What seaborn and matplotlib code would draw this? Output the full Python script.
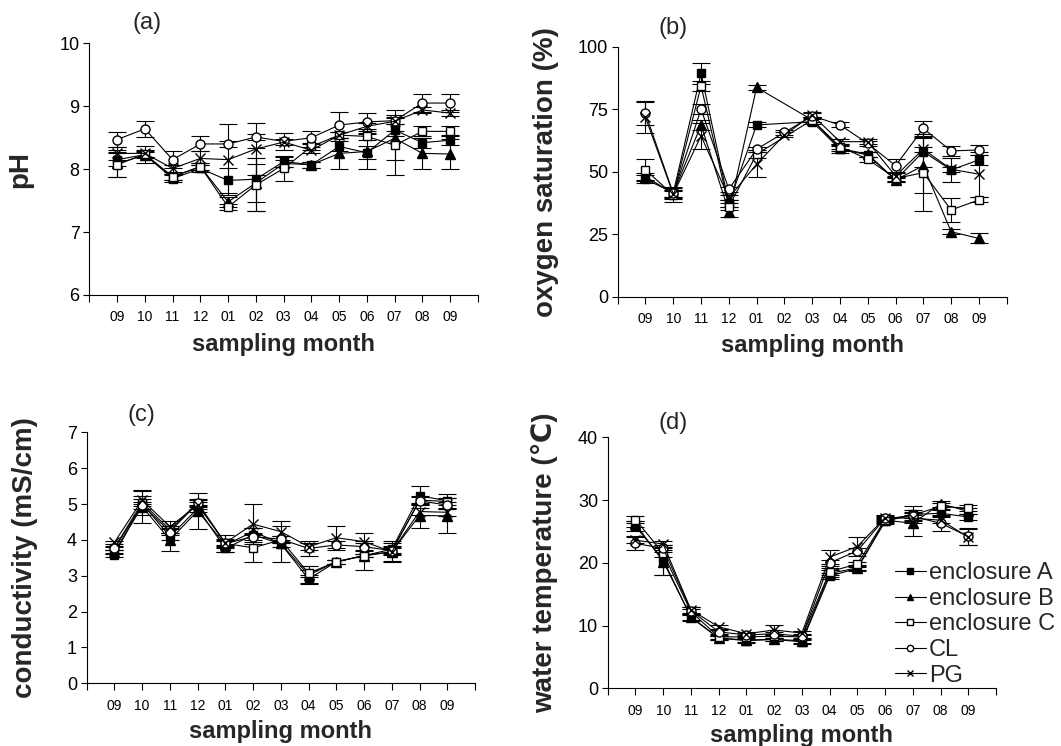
import numpy as np
import pandas as pd
import matplotlib
matplotlib.use("Agg")
import matplotlib.pyplot as plt
import seaborn as sns

months = ["09", "10", "11", "12", "01", "02", "03", "04", "05", "06", "07", "08", "09"]
series_names = ["enclosure A", "enclosure B", "enclosure C", "CL", "PG"]
nan = np.nan

# (a) pH
ph_A  = [8.15, 8.23, 7.85, 8.01, 7.82, 7.84, 8.12, 8.07, 8.36, 8.26, 8.62, 8.42, 8.46]
ph_B  = [8.09, 8.22, 7.88, 8.04, 7.48, 7.78, 8.09, 8.07, 8.25, 8.28, 8.49, 8.25, 8.24]
ph_C  = [8.07, 8.24, 7.88, 8.04, 7.40, 7.75, 8.01, 8.36, 8.54, 8.52, 8.38, 8.60, 8.60]
ph_CL = [8.47, 8.64, 8.15, 8.40, 8.40, 8.51, 8.44, 8.50, 8.70, 8.75, 8.77, 9.05, 9.05]
ph_PG = [8.25, 8.25, 8.01, 8.17, 8.15, 8.32, 8.43, 8.30, 8.54, 8.68, 8.76, 8.94, 8.89]
ph_A_err  = [0.10, 0.14, 0.05, 0.05, 0.20, 0.50, 0.08, 0.05, 0.08, 0.10, 0.10, 0.08, 0.08]
ph_B_err  = [0.21, 0.05, 0.05, 0.05, 0.08, 0.30, 0.05, 0.05, 0.25, 0.28, 0.34, 0.25, 0.24]
ph_C_err  = [0.20, 0.05, 0.05, 0.05, 0.05, 0.42, 0.20, 0.05, 0.05, 0.05, 0.48, 0.08, 0.08]
ph_CL_err = [0.12, 0.13, 0.13, 0.12, 0.05, 0.05, 0.13, 0.10, 0.21, 0.14, 0.17, 0.14, 0.14]
ph_PG_err = [0.10, 0.05, 0.05, 0.11, 0.56, 0.41, 0.05, 0.05, 0.05, 0.05, 0.05, 0.05, 0.05]

# (b) oxygen saturation (%)
ox_A  = [47.0, 41.6, 89.3, 37.3, 68.7, nan, 70.0, 59.0, 56.7, 46.7, 58.0, 50.7, 54.7]
ox_B  = [48.0, 41.3, 68.7, 34.0, 83.7, nan, 70.7, 59.3, 57.0, 46.7, 52.4, 26.0, 23.3]
ox_C  = [50.7, 40.7, 84.3, 36.0, 57.0, nan, 70.7, 60.0, 55.0, 47.3, 49.6, 34.7, 38.7]
ox_CL = [73.3, 41.3, 75.0, 43.0, 59.0, 65.7, 72.3, 68.7, 61.3, 52.4, 67.3, 58.3, 58.7]
ox_PG = [71.7, 41.0, 64.3, 39.6, 53.0, 64.7, 72.7, 62.0, 62.0, 48.3, 59.0, 51.0, 49.0]
ox_A_err  = [1.5, 2.0, 4.3, 1.5, 1.0, nan, 1.0, 1.5, 1.0, 1.0, 6.0, 4.7, 2.0]
ox_B_err  = [1.5, 1.5, 2.0, 2.0, 1.0, nan, 1.0, 1.0, 1.0, 1.0, 11.0, 1.0, 2.0]
ox_C_err  = [4.3, 1.5, 2.0, 1.5, 1.5, nan, 1.0, 1.0, 1.0, 1.0, 15.3, 4.7, 1.0]
ox_CL_err = [4.7, 1.5, 2.0, 1.0, 1.0, 1.0, 1.0, 1.0, 1.0, 2.6, 3.1, 2.0, 2.0]
ox_PG_err = [6.4, 3.0, 5.3, 1.0, 5.0, 1.0, 1.0, 1.0, 1.0, 1.0, 1.0, 1.0, 9.0]

# (c) conductivity (mS/cm)
co_A  = [3.58, 5.02, 4.09, 4.88, 3.76, 4.14, 3.89, 2.91, 3.39, 3.56, 3.74, 5.23, 5.09]
co_B  = [3.67, 4.93, 4.00, 4.81, 3.86, 4.23, 3.90, 3.02, 3.39, 3.56, 3.67, 4.68, 4.67]
co_C  = [3.78, 5.04, 4.28, 5.04, 3.90, 3.78, 4.00, 3.07, 3.39, 3.56, 3.67, 5.11, 5.07]
co_CL = [3.76, 4.97, 4.23, 5.02, 3.90, 4.09, 4.02, 3.76, 3.86, 3.81, 3.70, 5.09, 4.97]
co_PG = [3.93, 5.11, 4.37, 4.97, 3.92, 4.44, 4.23, 3.81, 4.06, 3.95, 3.67, 4.79, 4.77]
co_A_err  = [0.05, 0.33, 0.10, 0.10, 0.10, 0.20, 0.50, 0.10, 0.05, 0.40, 0.10, 0.27, 0.20]
co_B_err  = [0.05, 0.45, 0.30, 0.50, 0.10, 0.10, 0.10, 0.25, 0.05, 0.05, 0.25, 0.36, 0.49]
co_C_err  = [0.05, 0.10, 0.10, 0.10, 0.10, 0.39, 0.10, 0.10, 0.05, 0.05, 0.10, 0.10, 0.10]
co_CL_err = [0.05, 0.10, 0.10, 0.10, 0.25, 0.10, 0.10, 0.20, 0.10, 0.10, 0.10, 0.10, 0.10]
co_PG_err = [0.05, 0.10, 0.17, 0.10, 0.10, 0.56, 0.30, 0.10, 0.34, 0.25, 0.30, 0.10, 0.10]

# (d) water temperature (°C)
wt_A  = [25.8, 20.5, 11.3, 8.0, 7.6, 7.8, 7.4, 17.9, 19.1, 26.6, 27.7, 27.9, 27.3]
wt_B  = [26.2, 20.2, 11.4, 8.0, 7.7, 7.8, 7.6, 18.3, 19.2, 26.8, 26.3, 29.4, 28.2]
wt_C  = [26.9, 21.5, 12.2, 8.2, 8.2, 8.3, 8.2, 18.6, 19.8, 26.9, 27.6, 29.0, 28.7]
wt_CL = [23.1, 22.3, 12.4, 9.0, 8.5, 8.7, 8.3, 20.0, 21.9, 27.1, 27.4, 26.3, 24.2]
wt_PG = [23.6, 23.0, 12.5, 9.8, 8.7, 9.3, 8.8, 20.9, 22.6, 27.2, 27.1, 26.8, 24.1]
wt_A_err  = [0.8, 2.4, 0.5, 0.3, 0.3, 0.3, 0.3, 0.5, 0.4, 0.4, 1.3, 0.5, 0.5]
wt_B_err  = [0.5, 2.1, 0.5, 0.3, 0.3, 0.3, 0.3, 0.5, 0.4, 0.4, 2.1, 0.5, 0.5]
wt_C_err  = [0.6, 0.5, 0.5, 0.3, 0.3, 0.3, 0.3, 0.5, 0.4, 0.4, 0.5, 0.5, 0.5]
wt_CL_err = [1.1, 0.5, 0.5, 0.3, 0.3, 0.3, 0.3, 0.5, 0.4, 0.4, 0.5, 1.3, 1.3]
wt_PG_err = [0.5, 0.5, 0.5, 0.3, 0.3, 0.8, 0.3, 1.1, 1.5, 0.4, 0.5, 0.5, 1.3]

sns.set_theme(style="ticks")
plt.rcParams["font.family"] = ["Liberation Sans", "DejaVu Sans"]
plt.rcParams["axes.linewidth"] = 0.8
plt.rcParams["xtick.major.width"] = 0.8
plt.rcParams["ytick.major.width"] = 0.8

styles = {
    "enclosure A": dict(marker="s", markerfacecolor="black", markersize=6),
    "enclosure B": dict(marker="^", markerfacecolor="black", markersize=6.5),
    "enclosure C": dict(marker="s", markerfacecolor="white", markersize=6),
    "CL": dict(marker="o", markerfacecolor="white", markersize=6.5),
    "PG": dict(marker="x", markerfacecolor="black", markersize=7),
}

panels = [
    dict(vals=[ph_A, ph_B, ph_C, ph_CL, ph_PG],
         errs=[ph_A_err, ph_B_err, ph_C_err, ph_CL_err, ph_PG_err],
         ylim=(6, 10), yticks=[6, 7, 8, 9, 10], ylabel="pH", tag="(a)",
         pos=[0.0842, 0.6046, 0.3663, 0.3374], ylab_x=-0.145, xlab_y=-0.151,
         tag_xy=(0.148, 1.08)),
    dict(vals=[ox_A, ox_B, ox_C, ox_CL, ox_PG],
         errs=[ox_A_err, ox_B_err, ox_C_err, ox_CL_err, ox_PG_err],
         ylim=(0, 100), yticks=[0, 25, 50, 75, 100], ylabel="oxygen saturation (%)", tag="(b)",
         pos=[0.5822, 0.6023, 0.3666, 0.3351], ylab_x=-0.151, xlab_y=-0.151,
         tag_xy=(0.142, 1.075)),
    dict(vals=[co_A, co_B, co_C, co_CL, co_PG],
         errs=[co_A_err, co_B_err, co_C_err, co_CL_err, co_PG_err],
         ylim=(0, 7), yticks=[0, 1, 2, 3, 4, 5, 6, 7], ylabel="conductivity (mS/cm)", tag="(c)",
         pos=[0.0817, 0.0840, 0.3660, 0.3365], ylab_x=-0.126, xlab_y=-0.146,
         tag_xy=(0.142, 1.069)),
    dict(vals=[wt_A, wt_B, wt_C, wt_CL, wt_PG],
         errs=[wt_A_err, wt_B_err, wt_C_err, wt_CL_err, wt_PG_err],
         ylim=(0, 40), yticks=[0, 10, 20, 30, 40], ylabel="water temperature (\u2103)", tag="(d)",
         pos=[0.5728, 0.0773, 0.3660, 0.3365], ylab_x=-0.128, xlab_y=-0.142,
         tag_xy=(0.168, 1.057)),
]

fig = plt.figure(figsize=(10.61, 7.46), dpi=100)
xpos = np.arange(len(months))
ticklabels = [""] + months + [""]

for i, p in enumerate(panels):
    ax = fig.add_axes(p["pos"])
    for name, v, e in zip(series_names, p["vals"], p["errs"]):
        df = pd.DataFrame({"x": xpos, "y": v, "err": e}).dropna()
        ax.errorbar(df["x"], df["y"], yerr=df["err"], fmt="none", ecolor="black",
                    elinewidth=0.8, capsize=6.5, capthick=0.8, zorder=2)
        st = styles[name]
        sns.lineplot(data=df, x="x", y="y", ax=ax, color="black", linewidth=0.8,
                     marker=st["marker"], markersize=st["markersize"],
                     markerfacecolor=st["markerfacecolor"], markeredgecolor="black",
                     markeredgewidth=1.0, label=name if i == 3 else None,
                     errorbar=None, legend=False, zorder=3)
    ax.set_xlim(-1, 13)
    ax.set_xticks(np.arange(-1, 14))
    ax.set_xticklabels(ticklabels, fontsize=10)
    ax.set_ylim(*p["ylim"])
    ax.set_yticks(p["yticks"])
    ax.set_yticklabels([str(t) for t in p["yticks"]], fontsize=13)
    ax.tick_params(axis="x", length=5, pad=6, colors="black")
    ax.tick_params(axis="y", length=4, pad=3, colors="black")
    for s in ["top", "right"]:
        ax.spines[s].set_visible(False)
    for s in ["left", "bottom"]:
        ax.spines[s].set_color("black")
    ax.set_xlabel("sampling month", fontsize=17, fontweight="bold")
    ax.xaxis.set_label_coords(0.5, p["xlab_y"])
    ax.set_ylabel(p["ylabel"], fontsize=20, fontweight="bold")
    ax.yaxis.set_label_coords(p["ylab_x"], 0.5)
    ax.text(p["tag_xy"][0], p["tag_xy"][1], p["tag"], transform=ax.transAxes,
            fontsize=17, ha="center", va="center")
    ax.set_facecolor("white")
    if i == 3:
        leg = ax.legend(loc="upper left", bbox_to_anchor=(0.8435, 0.2461),
                        bbox_transform=fig.transFigure, frameon=False,
                        fontsize=17, handlelength=1.3, handletextpad=0.15,
                        labelspacing=0.15, borderpad=0, borderaxespad=0,
                        markerscale=0.7)

fig.patch.set_facecolor("white")
fig.savefig("out.png", dpi=100)
